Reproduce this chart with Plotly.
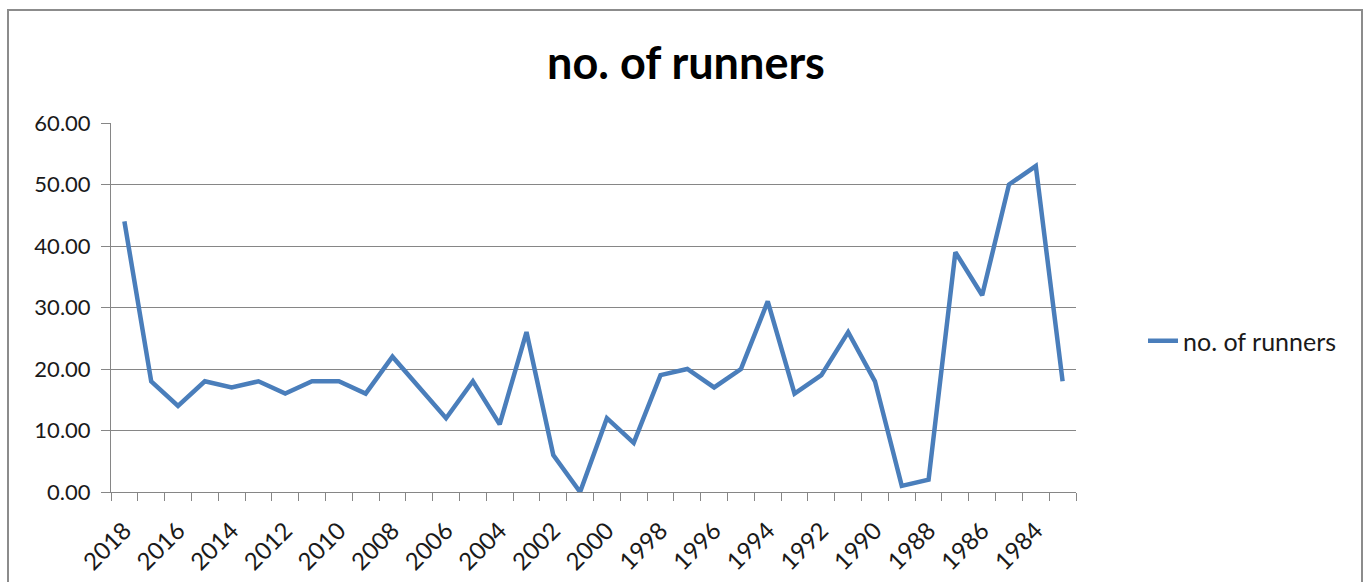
import plotly.graph_objects as go

years = list(range(2018, 1982, -1))
runners = [44, 18, 14, 18, 17, 18, 16, 18, 18, 16, 22, 17, 12, 18, 11, 26, 6, 0,
           12, 8, 19, 20, 17, 20, 31, 16, 19, 26, 18, 1, 2, 39, 32, 50, 53, 18]
tick_years = [y for y in years if y % 2 == 0]
tick_labels = [str(y) for y in tick_years]
series_name = "no. of runners"
title_text = "no. of runners"

W, H = 1367, 582
L, R, T, B = 111, 1076, 123, 492
pw, ph = R - L, B - T

def px(x):
    return (x - L) / pw

def py(y):
    return (B - y) / ph

grid = "#868686"
font = "Lato, 'Open Sans', sans-serif"

fig = go.Figure()
fig.add_trace(go.Scatter(
    x=years, y=runners, mode="lines", name=series_name,
    line=dict(color="#4a7ebb", width=4.5),
))

fig.update_layout(
    width=W, height=H,
    margin=dict(l=L, r=W - R, t=T, b=H - B),
    paper_bgcolor="white", plot_bgcolor="white",
    font=dict(family=font, color="#1a1a1a", size=22),
    title=dict(text="<b>" + title_text + "</b>", x=(547 + 825) / 2 / W, xanchor="center",
               yref="container", y=1 - 63 / H, yanchor="middle",
               font=dict(family=font, size=45, color="black")),
    showlegend=True,
    legend=dict(x=px(1143), y=py(341), xanchor="left", yanchor="middle",
                font=dict(family=font, size=25, color="#1a1a1a"),
                bgcolor="rgba(0,0,0,0)"),
    xaxis=dict(
        range=[2018.5, 1982.5], tickmode="array", tickvals=tick_years, ticktext=tick_labels,
        ticks="", tickangle=-45, showgrid=False, zeroline=False, automargin=False,
        showline=True, linecolor=grid, linewidth=1, ticklabelstandoff=14,
        minor=dict(tickmode="linear", tick0=0.5, dtick=1, ticks="outside", ticklen=8,
                   tickcolor=grid, tickwidth=1, showgrid=False),
        tickfont=dict(size=24),
    ),
    yaxis=dict(
        range=[0, 60], dtick=10, tick0=0, tickformat=".2f", showgrid=True, gridcolor=grid,
        gridwidth=1, zeroline=False, showline=True, linecolor=grid, linewidth=1,
        ticks="outside", ticklen=9, tickcolor=grid, tickfont=dict(size=22),
        ticklabelstandoff=6, automargin=False,
    ),
)

fig.add_shape(type="rect", xref="paper", yref="paper",
              x0=px(8), x1=px(1362), y0=py(620), y1=py(10),
              line=dict(color="#8c8c8c", width=2), fillcolor="rgba(0,0,0,0)", layer="below")

fig.write_html("out.html")
